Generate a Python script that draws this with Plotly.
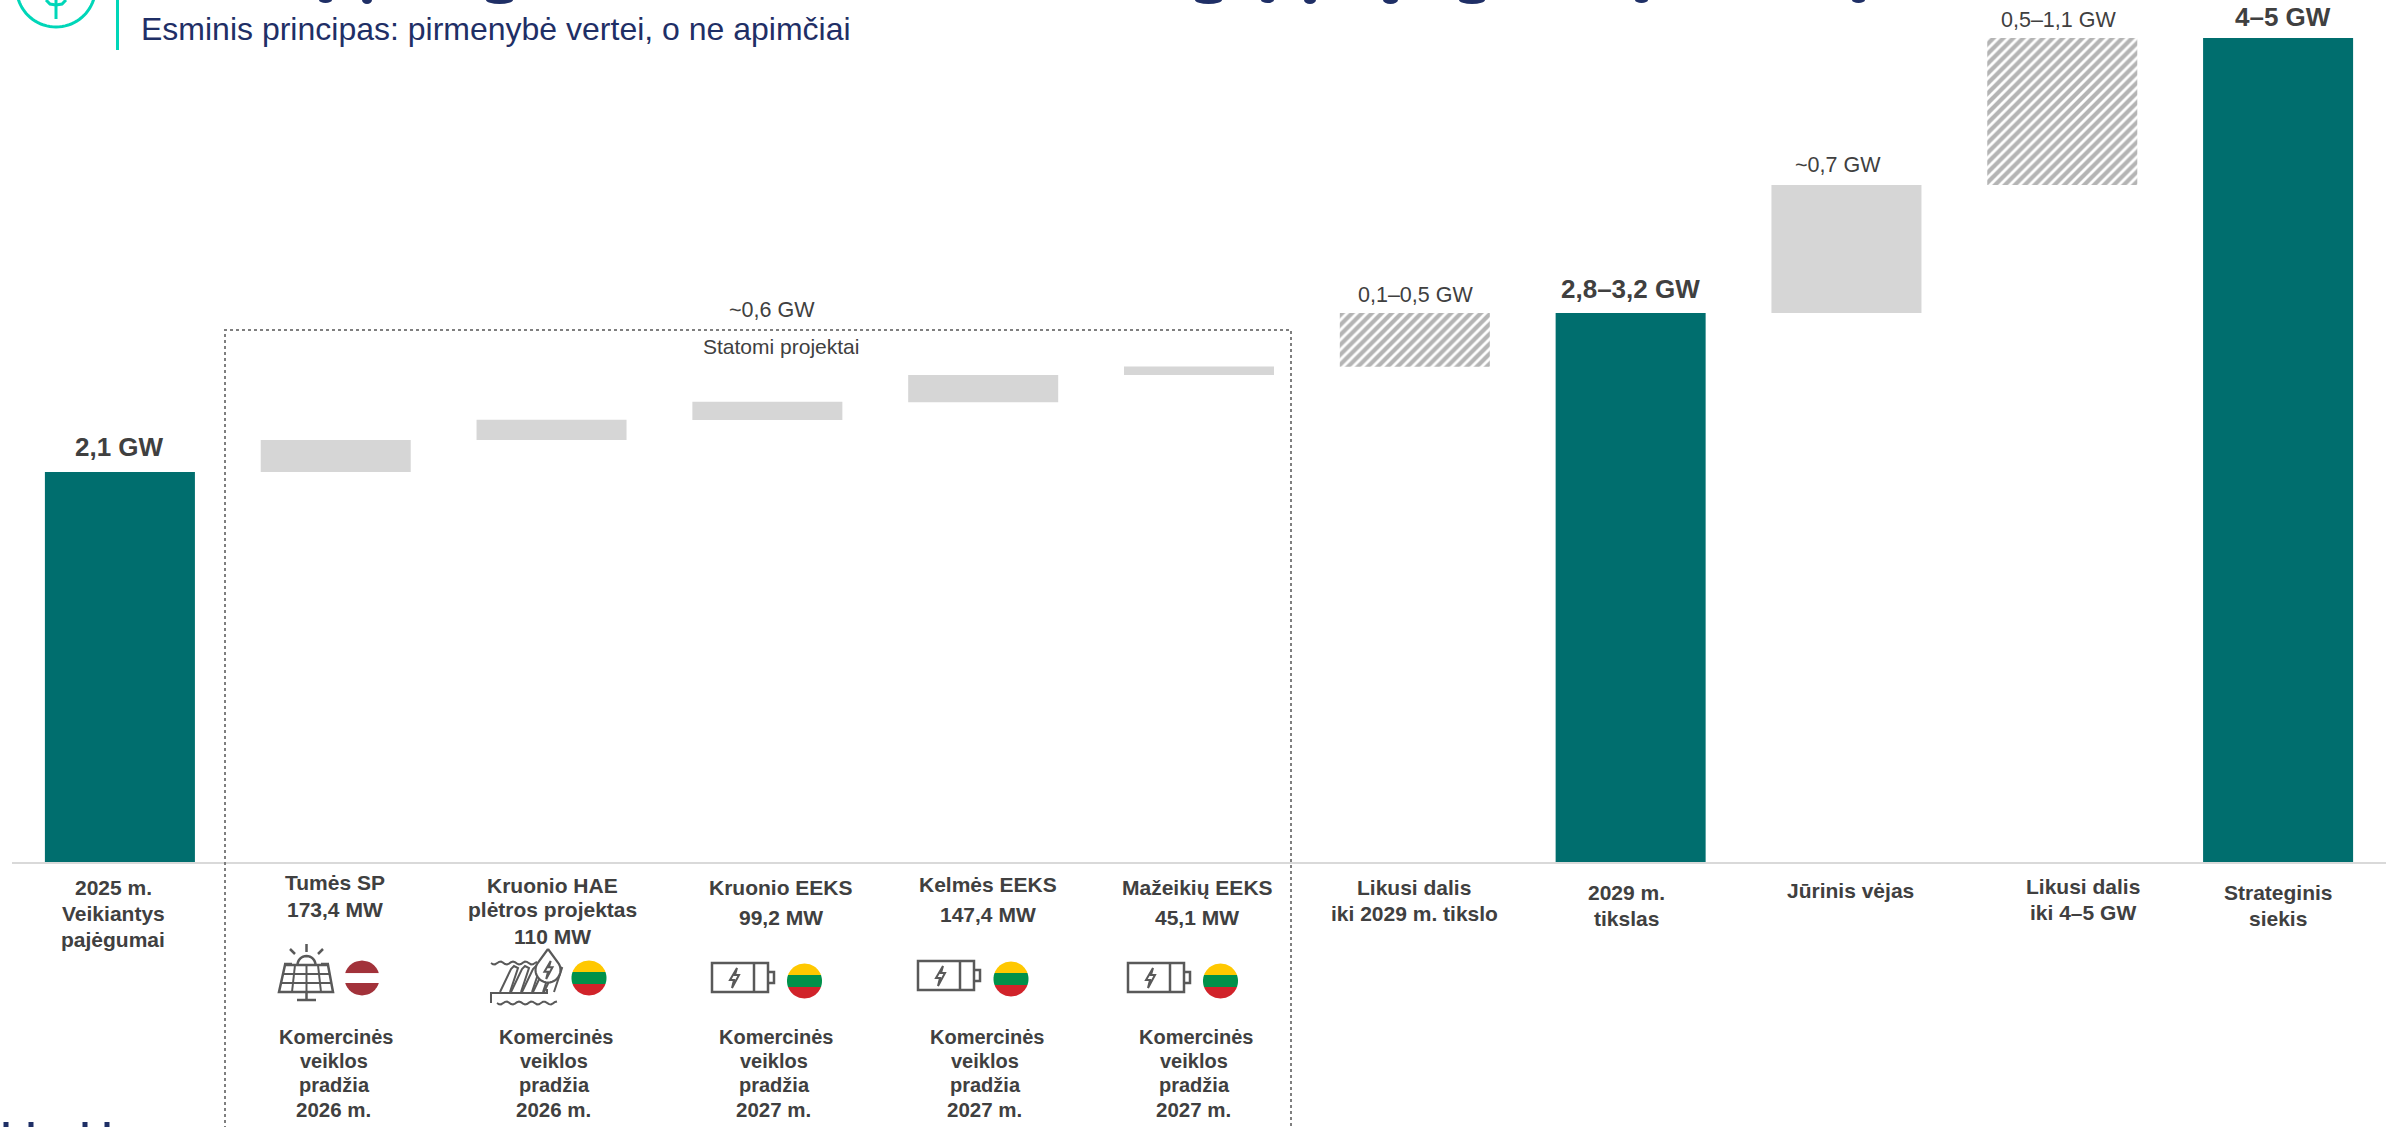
import math
import plotly.graph_objects as go

# ---------- data ----------
CATEGORIES = ["2025 m. Veikiantys pajėgumai", "Tumės SP", "Kruonio HAE plėtros projektas",
              "Kruonio EEKS", "Kelmės EEKS", "Mažeikių EEKS", "Likusi dalis iki 2029 m. tikslo",
              "2029 m. tikslas", "Jūrinis vėjas", "Likusi dalis iki 4–5 GW", "Strateginis siekis"]

TOTAL_CATS = ["2025 m. Veikiantys pajėgumai", "2029 m. tikslas", "Strateginis siekis"]
TOTAL_VALUES = [2.114, 2.976, 4.466]

PROJECT_CATS = ["Tumės SP", "Kruonio HAE plėtros projektas", "Kruonio EEKS", "Kelmės EEKS", "Mažeikių EEKS"]
PROJECT_BASES = [2.114, 2.287, 2.395, 2.492, 2.640]
PROJECT_GW = [0.1734, 0.110, 0.0992, 0.1474, 0.0451]

OFFSHORE_CATS = ["Jūrinis vėjas"]
OFFSHORE_BASES = [2.976]
OFFSHORE_GW = [0.693]

REMAINING_CATS = ["Likusi dalis iki 2029 m. tikslo", "Likusi dalis iki 4–5 GW"]
REMAINING_BASES = [2.684, 3.669]
REMAINING_GW = [0.292, 0.797]

SUBTITLE = "Esminis principas: pirmenybė vertei, o ne apimčiai"
BOX_TITLE = "Statomi projektai"
BOX_TOTAL = "~0,6 GW"
VALUE_BOLD = ["2,1 GW", "2,8–3,2 GW", "4–5 GW"]
VALUE_PLAIN = ["0,1–0,5 GW", "~0,7 GW", "0,5–1,1 GW"]
START_YEARS = ["2026 m.", "2026 m.", "2027 m.", "2027 m.", "2027 m."]

# ---------- page geometry ----------
W, H = 2400, 1127
ML, MR, BASE_Y = 12, 14, 862
PX_PER_GW = 184.5
TEAL, GREY, HATCH = "#006E6E", "#D6D6D6", "#6A6A6A"
TXT, ICON, NAVY, MINT = "#404040", "#595959", "#1F2F66", "#00D6B8"

def px(x):
    return (x - ML) / (W - ML - MR)

def py(y):
    return (BASE_Y - y) / BASE_Y

fig = go.Figure()
fig.add_bar(x=TOTAL_CATS, y=TOTAL_VALUES, marker=dict(color=TEAL, line_width=0))
fig.add_bar(x=PROJECT_CATS, y=PROJECT_GW, base=PROJECT_BASES, marker=dict(color=GREY, line_width=0))
fig.add_bar(x=OFFSHORE_CATS, y=OFFSHORE_GW, base=OFFSHORE_BASES, marker=dict(color=GREY, line_width=0))
fig.add_bar(x=REMAINING_CATS, y=REMAINING_GW, base=REMAINING_BASES,
            marker=dict(color="white", line_width=0,
                        pattern=dict(shape="/", fgcolor=HATCH, bgcolor="white", size=7, solidity=0.6)))

shapes, notes = [], []

def text(x, y, s, size=21, bold=True, color=TXT, anchor="center"):
    notes.append(dict(xref="paper", yref="paper", x=px(x), y=py(y), text=f"<b>{s}</b>" if bold else s,
                      showarrow=False, xanchor=anchor, yanchor="middle", borderpad=0, borderwidth=0,
                      font=dict(family="Liberation Sans, Arial, sans-serif", size=size, color=color)))

def path(pts, color=ICON, width=2.5, close=False, fill=None, dash=None):
    d = "M " + " L ".join(f"{px(a):.6f},{py(b):.6f}" for a, b in pts) + (" Z" if close else "")
    line = dict(color=color, width=width)
    if dash:
        line["dash"] = dash
    s = dict(type="path", xref="paper", yref="paper", path=d, line=line, layer="above")
    if fill:
        s["fillcolor"] = fill
    shapes.append(s)

def arc(cx, cy, r, a0, a1, n=30):
    return [(cx + r * math.cos(math.radians(a0 + (a1 - a0) * i / n)),
             cy + r * math.sin(math.radians(a0 + (a1 - a0) * i / n))) for i in range(n + 1)]

def flag(cx, cy, stripes, r=17.5):
    for (y0, y1, col) in stripes:
        pts = []
        n = 14
        for i in range(n + 1):
            yy = y0 + (y1 - y0) * i / n
            pts.append((cx - math.sqrt(max(r * r - (yy - cy) ** 2, 0)), yy))
        for i in range(n + 1):
            yy = y1 + (y0 - y1) * i / n
            pts.append((cx + math.sqrt(max(r * r - (yy - cy) ** 2, 0)), yy))
        path(pts, color=col, width=0, close=True, fill=col)

def lt_flag(cx, cy):
    flag(cx, cy, [(cy - 17.5, cy - 6, "#FFC800"), (cy - 6, cy + 6, "#00914A"), (cy + 6, cy + 17.5, "#D1232A")])

def lv_flag(cx, cy):
    flag(cx, cy, [(cy - 17.5, cy - 4.7, "#A2323A"), (cy - 4.7, cy + 5, "#FFFFFF"), (cy + 5, cy + 17.5, "#A2323A")])

def bolt(cx, cy, s=1.0):
    pts = [(3, -10), (-4, 2), (0, 2), (-2, 10), (5, -3), (1, -3)]
    path([(cx + a * s, cy + b * s) for a, b in pts], width=2, close=True)

def battery(x, y):
    path([(x, y), (x + 56, y), (x + 56, y + 29), (x, y + 29)], close=True)
    path([(x + 42, y), (x + 42, y + 29)])
    path([(x + 56, y + 9), (x + 62, y + 9), (x + 62, y + 20), (x + 56, y + 20)])
    bolt(x + 22, y + 15)

def wave(x0, x1, y):
    n, pts = int((x1 - x0) / 2), []
    for i in range(n + 1):
        t = x0 + (x1 - x0) * i / n
        pts.append((t, y + 1.5 * math.sin((t - x0) / 2)))
    path(pts, width=2)

# ---------- axis box ----------
path([(225, 1135), (225, 330), (1291, 330), (1291, 1135)], color="#7F7F7F", width=2, dash="dot")

# ---------- header ----------
path(arc(56, -12.5, 39.5, 0, 180, 40), color=MINT, width=3)
path([(56, 0), (56, 19)], color=MINT, width=3)
path([(46, 0), (50, 4), (56, 5), (62, 4), (66, 0)], color=MINT, width=3)
path([(117.5, 0), (117.5, 50)], color=MINT, width=3)
text(141, 29.5, SUBTITLE, size=32, bold=False, color=NAVY, anchor="left")

# clipped remains of the heading and of the footnote
for a, b, h in [(319, 332, 3), (362, 372, 4), (486, 513, 4), (1195, 1222, 4), (1261, 1274, 3),
                (1304, 1316, 4), (1383, 1398, 4), (1459, 1485, 4), (1635, 1648, 3), (1852, 1865, 3)]:
    shapes.append(dict(type="circle", xref="paper", yref="paper", x0=px(a), x1=px(b), y0=py(-h), y1=py(h),
                       fillcolor=NAVY, line_width=0))
for a in [6, 31, 85, 107]:
    shapes.append(dict(type="rect", xref="paper", yref="paper", x0=px(a - 2.5), x1=px(a + 2.5), y0=py(1122), y1=py(1128),
                       fillcolor=NAVY, line_width=0))

# ---------- value labels ----------
for (x, y), s in zip([(119, 447), (1630, 289), (2283, 17)], VALUE_BOLD):
    text(x, y, s, size=26)
for (x, y), s in zip([(1415, 295), (1838, 165), (2058, 20)], VALUE_PLAIN):
    text(x, y, s, size=21.5, bold=False)
text(772, 310, BOX_TOTAL, size=21.5, bold=False)
text(781, 346, BOX_TITLE, size=21, bold=False)

# ---------- category labels ----------
LABELS = [
    (113, [888, 913, 939], ["2025 m.", "Veikiantys", "pajėgumai"]),
    (335, [883, 909], ["Tumės SP", "173,4 MW"]),
    (552, [885, 910, 936], ["Kruonio HAE", "plėtros projektas", "110 MW"]),
    (781, [887, 917], ["Kruonio EEKS", "99,2 MW"]),
    (988, [884, 915], ["Kelmės EEKS", "147,4 MW"]),
    (1197, [887, 917], ["Mažeikių EEKS", "45,1 MW"]),
    (1414, [888, 913], ["Likusi dalis", "iki 2029 m. tikslo"]),
    (1626, [893, 918], ["2029 m.", "tikslas"]),
    (1850, [890], ["Jūrinis vėjas"]),
    (2083, [886, 912], ["Likusi dalis", "iki 4–5 GW"]),
    (2278, [893, 918], ["Strateginis", "siekis"]),
]
for x, ys, lines in LABELS:
    for y, s in zip(ys, lines):
        text(x, y, s)

for x, yr in zip([334, 554, 774, 985, 1194], START_YEARS):
    text(x + 2, 1037, "Komercinės", size=20)
    text(x, 1061, "veiklos", size=20)
    text(x, 1085, "pradžia", size=20)
    text(x - 1, 1109, yr, size=20.5)

# ---------- icons ----------
# solar panel
path([(285, 965), (328, 965), (333, 992), (279, 992)], close=True, width=2.5)
path([(283, 974), (330, 974)], width=2)
path([(281, 983), (332, 983)], width=2)
for a, b in [(295, 292), (306.5, 306.5), (318, 321)]:
    path([(a, 965), (b, 992)], width=2)
path(arc(306.5, 965, 9, 180, 360, 16), width=2.5)
path([(306.5, 944), (306.5, 952)], width=2.5)
path([(290, 949), (295, 954)], width=2.5)
path([(323, 949), (318, 954)], width=2.5)
path([(284, 964), (292, 964)], width=2.5)
path([(321, 964), (329, 964)], width=2.5)
path([(306.5, 992), (306.5, 1000)], width=2.5)
path([(297, 1000), (316, 1000)], width=2.5)
lv_flag(362, 978)

# hydro plant
wave(491, 537, 963)
wave(497, 557, 1003)
for i in range(5):
    x0 = 500 + i * 11
    path([(x0, 992), (x0 + 11, 969), (x0 + 14, 966), (x0 + 18, 968), (x0 + 10, 992)], width=2)
path([(491, 1003), (491, 993), (547, 993), (547, 989)], width=2)
path([(548, 949)] + arc(548, 970, 12.5, -30, 210, 24) + [(548, 949)], width=2.2, fill="white")
bolt(548, 970, 0.9)
lt_flag(589, 978)

battery(712, 963)
lt_flag(804.5, 981)
battery(918, 961)
lt_flag(1011, 979)
battery(1128, 963)
lt_flag(1220.5, 981)

fig.update_layout(
    width=W, height=H, autosize=False, showlegend=False, barmode="overlay", bargap=1 - 150 / 215.8,
    margin=dict(l=ML, r=MR, t=0, b=H - BASE_Y, pad=0),
    paper_bgcolor="white", plot_bgcolor="white", hovermode=False,
    xaxis=dict(type="category", categoryorder="array", categoryarray=CATEGORIES, range=[-0.5, 10.5],
               showticklabels=False, ticks="", showgrid=False, zeroline=False,
               showline=True, linecolor="#D9D9D9", linewidth=2),
    yaxis=dict(range=[0, BASE_Y / PX_PER_GW], visible=False, showgrid=False, zeroline=False),
    shapes=shapes, annotations=notes,
)

fig.write_html("out.html", config=dict(displayModeBar=False),
               post_script="document.body.style.margin='0';document.body.style.overflow='hidden';")
